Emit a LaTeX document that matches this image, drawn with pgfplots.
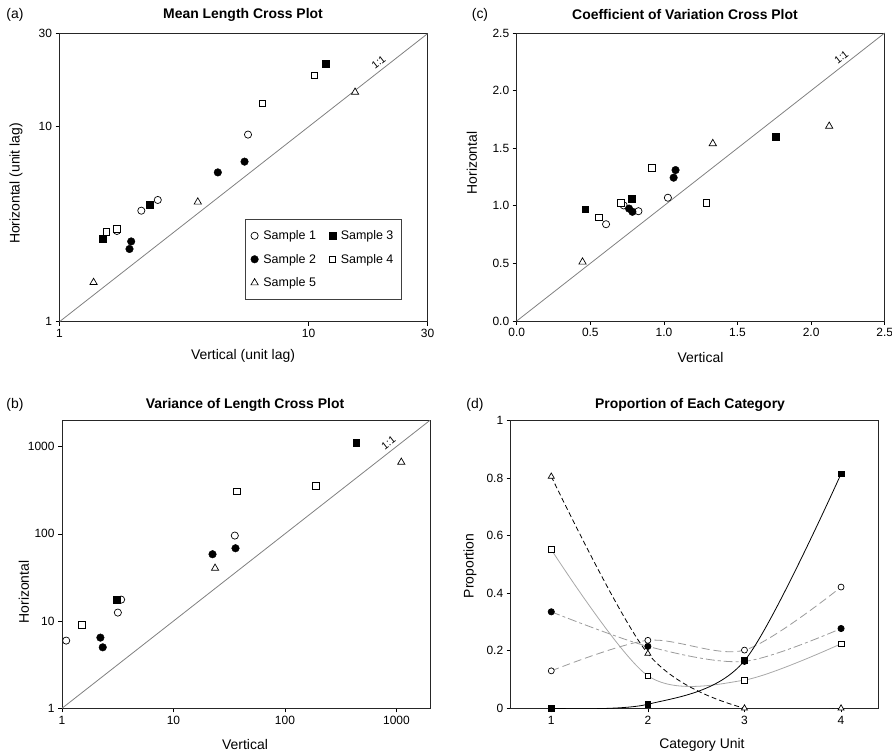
\documentclass[border=0pt]{standalone}
\usepackage{fontspec}
\setmainfont{Liberation Sans}
\usepackage{pgfplots}
\pgfplotsset{compat=1.18}

\definecolor{diag}{HTML}{808080}
\definecolor{lgray}{HTML}{A8A8A8}
\definecolor{mgray}{HTML}{9A9A9A}

\pgfplotsset{
  panel/.style={
    scale only axis, width=368bp, height=288bp,
    axis line style={black!85, line width=0.7pt},
    tick align=outside, tick pos=left, major tick length=4bp,
    tick style={black, line width=0.6pt},
    minor tick style={draw=none},
    tick label style={font=\fontsize{12}{14}\selectfont},
    /pgf/number format/assume math mode=true,
    clip mode=individual,
  },
  mkO/.style={mark=*, mark size=3.6bp, mark options={solid, fill=white, draw=black, line width=0.7pt}},
  mkF/.style={mark=*, mark size=3.8bp, mark options={solid, fill=black, draw=black}},
  mkFS/.style={mark=square*, mark size=3.4bp, mark options={solid, fill=black, draw=black}},
  mkOS/.style={mark=square*, mark size=3.3bp, mark options={solid, fill=white, draw=black, line width=0.7pt}},
  mkT/.style={mark=triangle*, mark size=4.2bp, mark options={solid, fill=white, draw=black, line width=0.7pt}},
  oneone/.style={diag, line width=0.8pt, forget plot},
}
\newcommand{\lblfont}{\fontsize{14}{16}\selectfont}
\newcommand{\ttlfont}{\fontsize{14}{16}\selectfont\bfseries}
\newcommand{\onefont}{\fontsize{10.5}{12}\selectfont}

\begin{document}
\begin{tikzpicture}[x=1bp,y=1bp]
\path[use as bounding box] (0,0) rectangle (892,756);

% (a) mean length
\begin{axis}[panel, at={(59.5bp,434.3bp)}, anchor=south west,
  xmode=log, ymode=log, xmin=1, xmax=30, ymin=1, ymax=30,
  xtick={1,10,30}, xticklabels={1,10,30},
  ytick={1,10,30}, yticklabels={1,10,30},
  legend columns=2,
  legend style={at={(0.503,0.078)}, anchor=south west, draw=black!75,
    font=\fontsize{12.5}{14}\selectfont, inner xsep=6bp, inner ysep=9bp,
    row sep=9bp,
    /tikz/every odd column/.append style={column sep=3bp},
    /tikz/every even column/.append style={column sep=11bp}},
  legend cell align=left,
]
\addplot[oneone] coordinates {(1,1) (30,30)};
\node[anchor=south, rotate=38, inner sep=4bp, font=\onefont] at (rel axis cs:0.88,0.88) {1:1};
\addplot[only marks, mkO] coordinates {(1.70,2.92) (2.13,3.71) (2.48,4.21) (5.71,9.11)};
\addlegendentry{Sample 1}
\addplot[only marks, mkFS] coordinates {(1.49,2.66) (2.31,3.98) (11.67,21.03)};
\addlegendentry{Sample 3}
\addplot[only marks, mkF] coordinates {(1.94,2.58) (1.91,2.36) (4.32,5.83) (5.53,6.62)};
\addlegendentry{Sample 2}
\addplot[only marks, mkOS] coordinates {(1.54,2.88) (1.70,2.99) (6.51,13.15) (10.54,18.37)};
\addlegendentry{Sample 4}
\addplot[only marks, mkT] coordinates {(1.37,1.59) (3.59,4.11) (15.36,15.03)};
\addlegendentry{Sample 5}
\end{axis}

% (c) coefficient of variation
\begin{axis}[panel, at={(516.7bp,435bp)}, anchor=south west,
  xmin=0, xmax=2.5, ymin=0, ymax=2.5,
  xtick={0,0.5,...,2.5}, ytick={0,0.5,...,2.5},
  /pgf/number format/.cd, fixed, fixed zerofill, precision=1,
]
\addplot[oneone] coordinates {(0,0) (2.5,2.5)};
\node[anchor=south, rotate=38, inner sep=4bp, font=\onefont] at (rel axis cs:0.895,0.895) {1:1};
\addplot[only marks, mkO] coordinates {(0.607,0.840) (0.727,1.003) (0.827,0.953) (1.027,1.070)};
\addplot[only marks, mkFS] coordinates {(0.465,0.970) (0.779,1.061) (1.757,1.602)};
\addplot[only marks, mkF] coordinates {(0.763,0.976) (0.786,0.948) (1.066,1.244) (1.079,1.310)};
\addplot[only marks, mkOS] coordinates {(0.558,0.901) (0.707,1.026) (0.917,1.328) (1.287,1.026)};
\addplot[only marks, mkT] coordinates {(0.447,0.512) (1.332,1.540) (2.123,1.691)};
\end{axis}

% (b) variance
\begin{axis}[panel, at={(62bp,47.7bp)}, anchor=south west,
  xmode=log, ymode=log, xmin=1, xmax=2000, ymin=1, ymax=2000,
  xtick={1,10,100,1000}, xticklabels={1,10,100,1000},
  ytick={1,10,100,1000}, yticklabels={1,10,100,1000},
]
\addplot[oneone] coordinates {(1,1) (2000,2000)};
\node[anchor=south, rotate=38, inner sep=4bp, font=\onefont] at (rel axis cs:0.90,0.90) {1:1};
\addplot[only marks, mkO] coordinates {(1.09,5.97) (3.17,12.5) (3.39,17.6) (35.5,95.4)};
\addplot[only marks, mkFS] coordinates {(3.12,17.5) (435,1110)};
\addplot[only marks, mkF] coordinates {(2.21,6.46) (2.32,5.00) (22.4,58.3) (36.0,68.3)};
\addplot[only marks, mkOS] coordinates {(1.51,9.02) (37.0,307) (188.6,357)};
\addplot[only marks, mkT] coordinates {(23.6,40.3) (1105,661)};
\end{axis}

% (d) proportion
\begin{axis}[panel, at={(510.7bp,47.7bp)}, anchor=south west,
  xmin=0.58, xmax=4.39, ymin=0, ymax=1,
  xtick={1,2,3,4}, ytick={0,0.2,0.4,0.6,0.8,1},
  yticklabels={0,0.2,0.4,0.6,0.8,1},
]
\addplot[lgray, line width=0.8pt, smooth, mkOS, mark size=2.9bp] coordinates {(1,0.551) (2,0.113) (3,0.098) (4,0.224)};
\addplot[mgray, line width=0.8pt, smooth, dash pattern=on 9bp off 3bp on 3bp off 3bp, mkF, mark size=3.1bp] coordinates {(1,0.335) (2,0.215) (3,0.163) (4,0.277)};
\addplot[mgray, line width=0.8pt, smooth, dash pattern=on 8bp off 4bp, mkO, mark size=3bp] coordinates {(1,0.130) (2,0.236) (3,0.202) (4,0.421)};
\addplot[black, line width=0.8pt, smooth, dash pattern=on 5bp off 3bp, mkT, mark size=3.5bp] coordinates {(1,0.805) (2,0.190) (3,0) (4,0)};
\addplot[black, line width=0.8pt, smooth, mkFS, mark size=2.9bp] coordinates {(1,0) (2,0.014) (3,0.165) (4,0.814)};
\end{axis}

% titles and labels
\node[font=\lblfont] at (15,741) {(a)};
\node[font=\lblfont] at (480,741) {(c)};
\node[font=\lblfont] at (15,351) {(b)};
\node[font=\lblfont] at (475,351) {(d)};
\node[font=\ttlfont] at (243,741) {Mean Length Cross Plot};
\node[font=\ttlfont] at (685,741) {Coefficient of Variation Cross Plot};
\node[font=\ttlfont] at (245,351) {Variance of Length Cross Plot};
\node[font=\ttlfont] at (690,351) {Proportion of Each Category};
\node[font=\lblfont] at (243,400) {Vertical (unit lag)};
\node[font=\lblfont] at (700.5,398.5) {Vertical};
\node[font=\lblfont] at (245,11) {Vertical};
\node[font=\lblfont] at (702,11) {Category Unit};
\node[font=\lblfont, rotate=90] at (16,572.5) {Horizontal (unit lag)};
\node[font=\lblfont, rotate=90] at (472,593) {Horizontal};
\node[font=\lblfont, rotate=90] at (24,164) {Horizontal};
\node[font=\lblfont, rotate=90] at (470,190) {Proportion};
\end{tikzpicture}
\end{document}
